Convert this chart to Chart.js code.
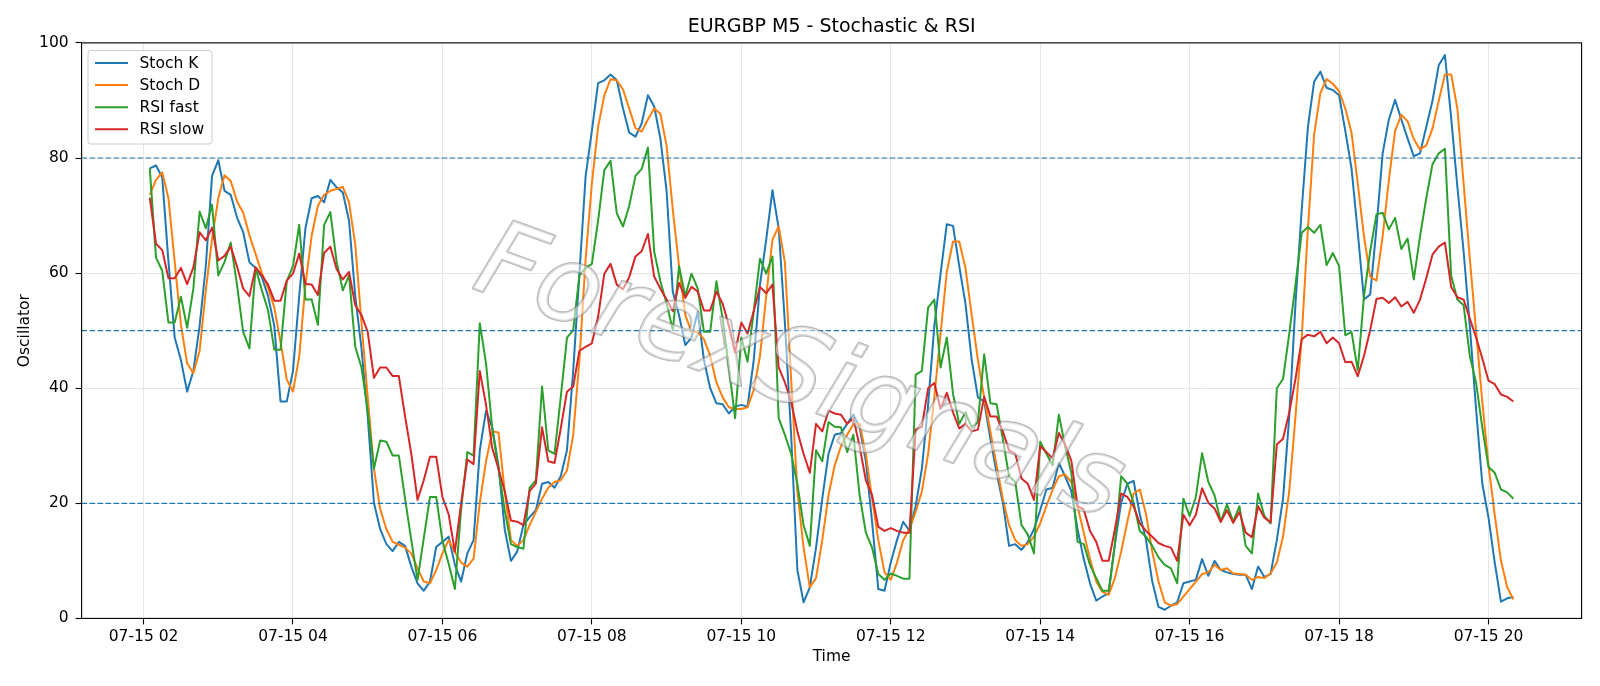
<!DOCTYPE html>
<html>
<head>
<meta charset="utf-8">
<title>EURGBP M5 - Stochastic & RSI</title>
<script src="https://cdn.jsdelivr.net/npm/chart.js@4.4.1/dist/chart.umd.min.js"></script>
<style>
  html, body { margin: 0; padding: 0; background: #fff; }
  #wrap { width: 1600px; height: 686px; }
</style>
</head>
<body>
<div id="wrap"><canvas id="chart" width="1600" height="686"></canvas></div>
<script>
// ===== data: EURGBP M5, 07-15 02:05 -> 20:20, one value per 5 min bar =====
const stochK = [
  78.2, 78.7, 76.6, 62, 48.8, 44.9, 39.4, 43, 50.8, 61.2,
  76.9, 79.6, 74.3, 73.6, 69.7, 67.1, 61.9, 60.9, 59.3, 56,
  50.8, 37.7, 37.7, 43, 56, 67.8, 73, 73.4, 72.3, 76.2,
  74.9, 74, 69.1, 56, 46.9, 35.1, 20.1, 15.5, 12.9, 11.7,
  13.3, 12.6, 9, 6.1, 4.8, 6.4, 12.4, 13.3, 14.2, 9.3,
  6.4, 11.3, 13.6, 29.2, 36.1, 33.2, 26.6, 15.5, 10, 11.6,
  16.2, 17.6, 18.8, 23.4, 23.7, 22.7, 24.7, 29.2, 43, 59.9,
  76.9, 84.7, 93, 93.5, 94.5, 93.5, 88.6, 84.4, 83.7, 86,
  90.9, 89, 83.4, 74.3, 56.7, 52.7, 47.5, 48.8, 53.3, 44.9,
  40, 37.4, 37.2, 35.6, 36.8, 37.1, 36.8, 44.9, 58, 65.8,
  74.4, 67.8, 51.4, 31.9, 8.4, 2.8, 5.4, 12.3, 20.8, 28.6,
  31.9, 32.2, 33.8, 35.4, 33.2, 27.3, 16.8, 5.1, 4.8, 9.7,
  13.6, 16.8, 15.2, 19.5, 26, 37.1, 50.8, 59.9, 68.5, 68.2,
  61.2, 54.7, 44.9, 38.4, 37.7, 31.2, 25.3, 20.1, 12.6, 12.9,
  11.9, 13.3, 15.5, 18.8, 22.4, 22.7, 27, 24.7, 22.1, 15.5,
  10.3, 6.1, 3.1, 3.8, 4.4, 12.9, 20.1, 23.4, 23.9, 18.1,
  13.6, 6.4, 2, 1.5, 2.2, 2.8, 6.1, 6.4, 6.7, 10.3,
  7.4, 10, 8.4, 8, 7.7, 7.6, 7.6, 5.1, 9, 7.2,
  7.7, 13.6, 20.8, 35.1, 54.7, 71, 85.4, 93.3, 95, 92.2,
  91.8, 90.9, 84.7, 78.2, 67.1, 55.4, 56.3, 67.8, 80.8, 86.7,
  90.1, 86.7, 83.4, 80.3, 80.8, 85.4, 89.9, 96.1, 97.9, 87,
  75, 63.8, 50.8, 36.4, 23.4, 17.5, 9.7, 2.9, 3.5, 3.7
];
const stochD = [
  73.6, 76.2, 77.5, 73, 62, 51, 44.3, 42.6, 46.5, 57,
  66, 73, 77, 76, 72.5, 70.5, 66.6, 63.3, 60, 57.4,
  54, 48, 41.5, 39.4, 45.5, 58, 66.5, 71.7, 73.6, 74.3,
  74.6, 75, 72.3, 65, 51.4, 38.4, 26, 19, 15.5, 13.3,
  12.8, 12.3, 11.3, 8.7, 6.4, 6.1, 8.4, 11.3, 13.6, 11.5,
  9.7, 9, 10.4, 20.1, 27.3, 32.5, 32.3, 22.1, 13.6, 12.6,
  13.6, 16.2, 18.5, 20.8, 22.7, 23.7, 24, 25.7, 31.9, 44.9,
  62.5, 75.6, 85.4, 90.9, 93.7, 93.5, 91.9, 88.6, 85.2, 84.6,
  86.7, 88.6, 87.7, 82.1, 71, 61.2, 52.7, 49.8, 49.8, 48.5,
  45.6, 41, 38.4, 36.7, 36.4, 36.4, 36.7, 39.7, 45.6, 56,
  65.8, 68.1, 61.9, 41.6, 22.1, 12.3, 5.4, 7, 13.6, 21.4,
  26.6, 29.9, 31.9, 33.8, 33.8, 28.6, 20.8, 13.6, 8, 6.7,
  9.7, 13.6, 15.5, 18.5, 22.1, 28.6, 38.4, 49.5, 60.2, 65.5,
  65.5, 60.9, 52.7, 44.9, 38.4, 32.5, 26.6, 20.8, 16.2, 13.6,
  12.6, 12.9, 14.2, 16.5, 19.5, 22.4, 24.7, 25, 23.7, 19.5,
  14.9, 10.3, 6.4, 4.6, 4.1, 7, 11.6, 16.8, 21.7, 22.4,
  18.1, 11.6, 6.4, 2.8, 2.2, 2.5, 3.8, 5.1, 6.4, 7.7,
  8, 9.3, 8.4, 8.7, 7.8, 7.7, 7.6, 6.7, 7.2, 7,
  7.8, 9.7, 14.2, 22.1, 35.1, 48.8, 67.8, 84.1, 91.3, 93.7,
  92.9, 91.6, 88.6, 84.4, 75.6, 66.4, 59.4, 58.7, 66.4, 76.2,
  84.7, 87.5, 86.4, 83.3, 81.5, 82.2, 85.1, 89.9, 94.5, 94.5,
  88.6, 75.6, 62.5, 50, 37.7, 26.6, 18, 10, 5.4, 3.3
];
const rsiFast = [
  78.2, 62.7, 60.4, 51.4, 51.4, 55.9, 50.5, 57.3, 70.7, 67.8,
  71.9, 59.6, 61.9, 65.3, 58, 49.8, 46.9, 60.9, 57, 53.5,
  46.7, 46.7, 58.6, 61.2, 68.4, 55.4, 55.4, 51, 68.4, 70.6,
  62, 57, 59.6, 47.2, 43.6, 36, 26, 30.9, 30.7, 28.3,
  28.3, 20.8, 13.6, 6.7, 13.9, 21.1, 21.1, 13.5, 9.5, 5.1,
  19, 28.9, 28.3, 51.3, 44.3, 33, 26, 18.8, 12.9, 12.4,
  12.1, 22.7, 24, 40.3, 29.2, 28.6, 38.4, 48.8, 50.1, 59.6,
  60.9, 61.6, 69.1, 77.9, 79.5, 70.4, 68.1, 71.7, 76.9, 78.1,
  81.8, 63.8, 58.6, 54.7, 50.1, 61.2, 56, 59.9, 57.3, 49.8,
  49.8, 58.6, 52.1, 43.6, 34.8, 48.8, 44.6, 53.4, 62.5, 59.9,
  62.9, 34.8, 31.9, 28.6, 23.4, 16.2, 12.6, 29.2, 27.3, 34.1,
  33.3, 33.2, 28.9, 31.9, 21.4, 14.9, 12.3, 7.7, 6.7, 7.8,
  7.4, 6.9, 6.9, 42.3, 43, 54, 55.4, 43.6, 48.8, 39,
  33.8, 35.8, 33.2, 34.1, 45.9, 37.4, 37.2, 31.2, 24.7, 23.7,
  16.2, 14.6, 11.3, 30.7, 28.6, 26.6, 35.4, 29.9, 25.3, 13.3,
  12.9, 9.3, 7, 4.8, 4.8, 12.9, 24.7, 23.4, 20.1, 15.2,
  14.2, 12.6, 10.6, 9.3, 8.7, 6.1, 20.8, 17.8, 21.1, 28.7,
  23.7, 21.4, 16.8, 19.8, 16.8, 19.5, 12.6, 11.3, 21.7, 17.8,
  16.5, 40, 41.6, 49.5, 58, 67, 68, 67, 68.4, 61.4,
  63.5, 61.2, 49.2, 49.8, 43.1, 56, 63.8, 70.2, 70.5, 67.6,
  69.6, 64.2, 66, 58.9, 66.4, 73, 78.9, 80.8, 81.6, 59.6,
  55.4, 54.4, 45.6, 41, 33.2, 26.3, 25.3, 22.4, 21.9, 20.8
];
const rsiSlow = [
  73.1, 65.1, 64, 59.1, 59.1, 60.9, 58.1, 61, 67.1, 65.7,
  67.9, 62.2, 63, 64.6, 61.2, 57.3, 56, 61, 59.6, 58,
  55.2, 55.2, 58.7, 59.9, 63.4, 58.1, 58, 56.2, 63.5, 64.6,
  60.7, 58.9, 60.2, 54.4, 52.7, 49.8, 41.8, 43.6, 43.6, 42.1,
  42.1, 35.1, 28.6, 20.6, 24, 28.1, 28.1, 21.1, 18.1, 11.6,
  20, 27.6, 26.8, 43, 37.1, 29.6, 26, 22.1, 17, 16.8,
  16.2, 22.1, 23.4, 33.2, 27.3, 27, 33, 39.4, 40.3, 46.5,
  47.2, 47.8, 52.4, 59.9, 61.6, 58, 57.2, 59.3, 62.9, 63.8,
  66.8, 59.4, 57.3, 55.4, 53.4, 58.3, 55.7, 57.6, 56.8, 53.5,
  53.5, 56.8, 54.7, 50.8, 46.2, 51.4, 49.5, 53.4, 57.6, 56.5,
  58, 43.6, 41, 37.7, 32.5, 28.6, 25.3, 33.8, 32.5, 36.1,
  35.6, 35.4, 33.8, 34.8, 29.9, 24, 21.4, 15.9, 15.2, 15.7,
  15.2, 14.9, 14.9, 32.8, 33.3, 40, 40.9, 36.4, 39.2, 35.8,
  33, 33.8, 32.5, 32.8, 38.5, 35.1, 35.1, 32.5, 29.2, 28.6,
  24.3, 23.4, 20.6, 29.9, 28.9, 27.8, 32.2, 30.2, 27.4, 19.5,
  18.9, 15.2, 13.3, 10, 10, 15.5, 21.7, 21.1, 19.5, 16.5,
  15.2, 14.2, 13.1, 12.6, 12.3, 10, 18, 16.2, 18, 22.6,
  20.1, 19.1, 16.8, 18.8, 16.6, 18.5, 14.9, 14.1, 19.5, 17.5,
  16.7, 30.2, 31.2, 35.8, 41.6, 48.5, 49.3, 49, 49.8, 47.8,
  48.8, 47.8, 44.5, 44.6, 42.1, 45.6, 50.1, 55.5, 55.7, 54.8,
  55.8, 54.2, 55, 53.1, 55.4, 59.1, 63.2, 64.6, 65.3, 57.6,
  55.8, 55.4, 52.1, 48.8, 45.2, 41.3, 40.7, 38.9, 38.5, 37.7
];
const levels = [20, 50, 80];
const tickHours = [2, 4, 6, 8, 10, 12, 14, 16, 18, 20];
const dayLabel = '07-15';
const firstBarMinute = 2 * 60 + 5;   // 02:05
const barMinutes = 5;

// ===== helpers =====
const FONT = '"DejaVu Sans", "Liberation Sans", sans-serif';
const baseFont = { family: FONT, size: 15.5 };

const minutes = stochK.map((_, i) => firstBarMinute + i * barMinutes);
const xPad = (minutes[minutes.length - 1] - minutes[0]) * 0.05;
const xMin = minutes[0] - xPad;
const xMax = minutes[minutes.length - 1] + xPad;

function toPoints(values) {
    return values.map((v, i) => ({ x: minutes[i], y: v }));
}

const lineStyle = {
    borderWidth: 2,
    pointRadius: 0,
    pointHoverRadius: 0,
    tension: 0,
    fill: false,
    borderJoinStyle: 'round',
    borderCapStyle: 'butt'
};

const seriesDefs = [
    { label: 'Stoch K', values: stochK, color: '#1f77b4', order: 4 },
    { label: 'Stoch D', values: stochD, color: '#ff7f0e', order: 3 },
    { label: 'RSI fast', values: rsiFast, color: '#2ca02c', order: 2 },
    { label: 'RSI slow', values: rsiSlow, color: '#d62728', order: 1 }
];

const datasets = seriesDefs.map(s => ({
    label: s.label,
    data: toPoints(s.values),
    borderColor: s.color,
    backgroundColor: s.color,
    order: s.order,
    ...lineStyle
}));

levels.forEach(level => {
    datasets.push({
        label: 'level ' + level,
        isLevel: true,
        data: [{ x: xMin, y: level }, { x: xMax, y: level }],
        borderColor: '#1f77b4',
        borderWidth: 1.2,
        borderDash: [5.5, 2.5],
        pointRadius: 0,
        order: 0
    });
});

// ===== plugins =====
const watermark = {
    id: 'watermark',
    afterDatasetsDraw(chart) {
        const ctx = chart.ctx;
        ctx.save();
        ctx.translate(chart.width * 0.499, chart.height * 0.55);
        ctx.rotate(20 * Math.PI / 180);
        ctx.font = 'italic 106px ' + FONT;
        ctx.textAlign = 'center';
        ctx.textBaseline = 'middle';
        ctx.lineJoin = 'round';
        ctx.strokeStyle = 'rgba(120, 120, 120, 0.5)';
        ctx.lineWidth = 2.5;
        ctx.strokeText('ForexSignals', 0, 0);
        ctx.fillStyle = 'rgba(255, 255, 255, 0.5)';
        ctx.fillText('ForexSignals', 0, 0);
        ctx.restore();
    }
};

function roundedRect(ctx, x, y, w, h, r) {
    ctx.beginPath();
    ctx.moveTo(x + r, y);
    ctx.lineTo(x + w - r, y);
    ctx.arcTo(x + w, y, x + w, y + r, r);
    ctx.lineTo(x + w, y + h - r);
    ctx.arcTo(x + w, y + h, x + w - r, y + h, r);
    ctx.lineTo(x + r, y + h);
    ctx.arcTo(x, y + h, x, y + h - r, r);
    ctx.lineTo(x, y + r);
    ctx.arcTo(x, y, x + r, y, r);
    ctx.closePath();
}

const frameAndLegend = {
    id: 'frameAndLegend',
    afterDraw(chart) {
        const ctx = chart.ctx;
        const a = chart.chartArea;
        ctx.save();

        // axes box
        ctx.strokeStyle = '#000';
        ctx.lineWidth = 1.1;
        ctx.strokeRect(a.left, a.top, a.right - a.left, a.bottom - a.top);

        // legend, upper left
        const items = chart.data.datasets.filter(d => !d.isLevel);
        const bx = a.left + 6.4;
        const by = a.top + 7.6;
        const bw = 124;
        const bh = 93.5;
        roundedRect(ctx, bx, by, bw, bh, 3);
        ctx.fillStyle = 'rgba(255, 255, 255, 0.8)';
        ctx.fill();
        ctx.strokeStyle = '#cccccc';
        ctx.lineWidth = 1;
        ctx.stroke();

        ctx.font = '15.5px ' + FONT;
        ctx.textAlign = 'left';
        ctx.textBaseline = 'middle';
        items.forEach((d, i) => {
            const y = by + 12.5 + i * 22.1;
            ctx.strokeStyle = d.borderColor;
            ctx.lineWidth = 2;
            ctx.beginPath();
            ctx.moveTo(bx + 7, y);
            ctx.lineTo(bx + 40, y);
            ctx.stroke();
            ctx.fillStyle = '#000';
            ctx.fillText(d.label, bx + 51.5, y + 1);
        });
        ctx.restore();
    }
};

// ===== chart =====
const gridStyle = {
    color: '#e6e6e6',
    lineWidth: 1,
    tickLength: 6,
    tickColor: '#000',
    tickWidth: 1.1
};

new Chart(document.getElementById('chart'), {
    type: 'line',
    data: { datasets },
    options: {
        responsive: false,
        animation: false,
        devicePixelRatio: 1,
        events: [],
        layout: { padding: { left: 0, right: 18.4, top: 0, bottom: 0 } },
        plugins: {
            legend: { display: false },
            tooltip: { enabled: false },
            title: {
                display: true,
                fullSize: false,
                text: 'EURGBP M5 - Stochastic & RSI',
                color: '#000',
                font: { family: FONT, size: 19, weight: 'normal' },
                padding: { top: 15.3, bottom: 4.8 }
            }
        },
        scales: {
            x: {
                type: 'linear',
                min: xMin,
                max: xMax,
                afterBuildTicks: scale => {
                    scale.ticks = tickHours.map(h => ({ value: h * 60 }));
                },
                afterFit: scale => { scale.height = 67.6; },
                ticks: {
                    autoSkip: false,
                    maxRotation: 0,
                    color: '#000',
                    font: baseFont,
                    padding: 3,
                    callback: v => dayLabel + ' ' + String(Math.round(v / 60)).padStart(2, '0')
                },
                grid: gridStyle,
                border: { display: false },
                title: {
                    display: true,
                    text: 'Time',
                    color: '#000',
                    font: baseFont,
                    padding: { top: 0, bottom: 20 }
                }
            },
            y: {
                min: 0,
                max: 100,
                afterFit: scale => { scale.width = 81.6; },
                ticks: {
                    stepSize: 20,
                    color: '#000',
                    font: baseFont,
                    padding: 7
                },
                grid: gridStyle,
                border: { display: false },
                title: {
                    display: true,
                    text: 'Oscillator',
                    color: '#000',
                    font: baseFont,
                    padding: { top: 15.7, bottom: 0 }
                }
            }
        }
    },
    plugins: [watermark, frameAndLegend]
});
</script>
</body>
</html>
